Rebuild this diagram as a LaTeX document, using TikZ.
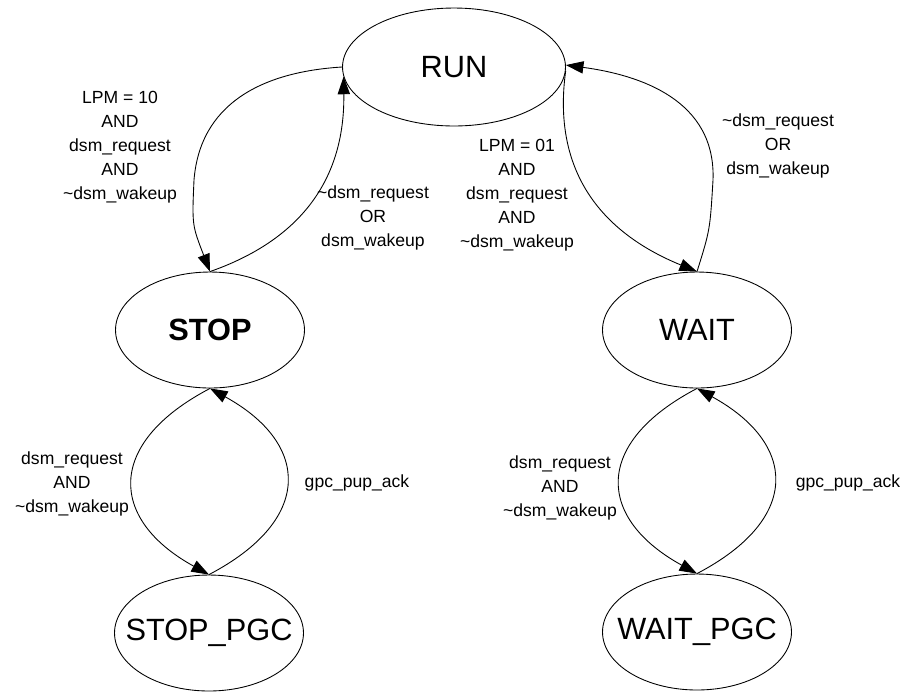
\documentclass[tikz,border=0pt]{standalone}
\usepackage{fontspec}
\setmainfont{Liberation Sans}
\usetikzlibrary{shapes.geometric,arrows.meta}
\begin{document}
\begin{tikzpicture}
  [x=0.02cm,y=-0.02cm,
   state/.style={ellipse,draw,line width=0.5pt,inner sep=0pt,
     minimum width=3.78cm,minimum height=2.32cm,
     font=\fontsize{17.5}{20}\selectfont},
   cond/.style={align=center,inner sep=0pt,font=\fontsize{10}{13.6}\selectfont},
   trans/.style={line width=0.5pt,-{Triangle[length=10pt,width=7pt]}}]
  \useasboundingbox (0,0) rectangle (912,691);

  \node[state,minimum width=4.46cm,minimum height=2.36cm] (run) at (454,67) {\makebox[0pt]{RUN}};
  \node[state] (stop)    at (210,330) {\makebox[0pt]{\bfseries STOP}};
  \node[state] (wait)    at (697,330) {\makebox[0pt]{WAIT}};
  \node[state] (stoppgc) at (209,633) {\makebox[0pt]{STOP\_PGC}};
  \node[state] (waitpgc) at (697,632) {\makebox[0pt]{WAIT\_PGC}};

  \node[cond] (c10)    at (120,147) {LPM = 10\\AND\\dsm\_request\\AND\\\textasciitilde dsm\_wakeup};
  \node[cond] (cback1) at (373,218) {\textasciitilde dsm\_request\\OR\\dsm\_wakeup};
  \node[cond] (c01)    at (517,195) {LPM = 01\\AND\\dsm\_request\\AND\\\textasciitilde dsm\_wakeup};
  \node[cond] (cback2) at (778,146) {\textasciitilde dsm\_request\\OR\\dsm\_wakeup};
  \node[cond] (creq1)  at (72,484)  {dsm\_request\\AND\\\textasciitilde dsm\_wakeup};
  \node[cond] (cack1)  at (357,483) {gpc\_pup\_ack};
  \node[cond] (creq2)  at (560,488) {dsm\_request\\AND\\\textasciitilde dsm\_wakeup};
  \node[cond] (cack2)  at (848,483) {gpc\_pup\_ack};

  \draw[trans] (run.west) .. controls (260,72) and (200,105) .. (194,180)
    .. controls (192,225) .. (stop.north);
  \draw[trans] (stop.north) .. controls (300,240) and (345,180) .. (run.185);
  \draw[trans] (run.-2) .. controls (552,170) and (600,232) .. (wait.north);
  \draw[trans] (wait.north) .. controls (710,230) .. (713,180)
    .. controls (716,100) and (640,75) .. (run.1);

  \foreach \hi/\lo in {stop/stoppgc,wait/waitpgc} {
    \draw[trans] (\hi.south) .. controls +(-105,55) and +(-100,-55) .. (\lo.north);
    \draw[trans] (\lo.north) .. controls +(105,-55) and +(100,55) .. (\hi.south);
  }
\end{tikzpicture}
\end{document}
